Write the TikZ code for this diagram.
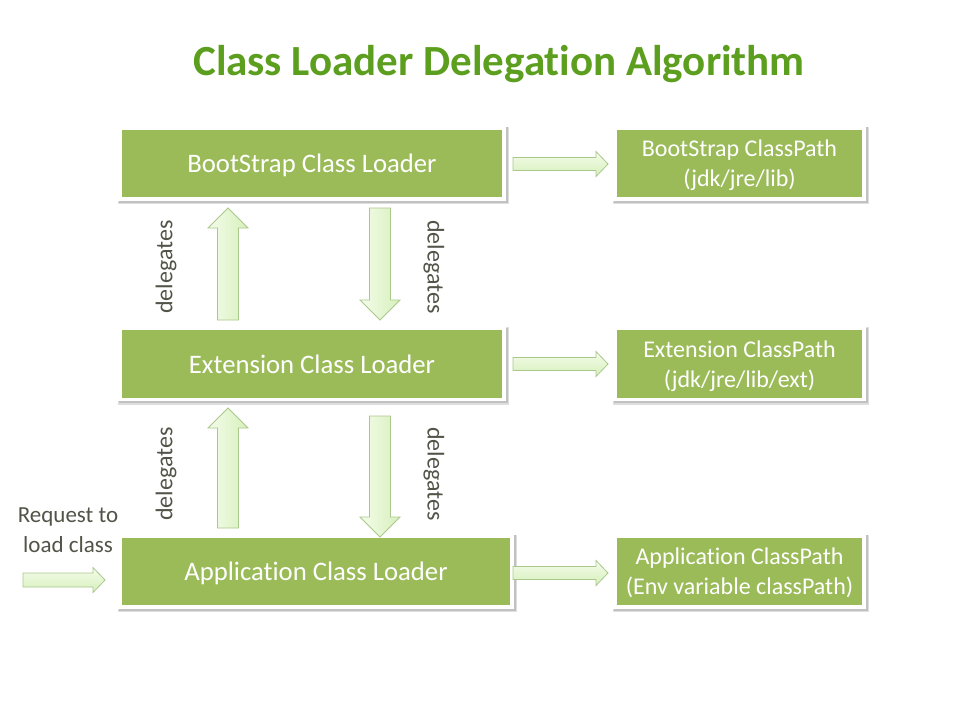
\documentclass[tikz,border=0pt]{standalone}
\usepackage{fontspec}
\setmainfont{Carlito}[Ligatures=NoCommon]
\usetikzlibrary{backgrounds,calc}
\definecolor{boxgreen}{RGB}{155,187,89}
\definecolor{titlegreen}{RGB}{92,158,30}
\definecolor{labelgray}{RGB}{82,84,72}
\definecolor{arrowedge}{RGB}{170,200,140}
\definecolor{arrowlight}{RGB}{244,252,234}
\definecolor{arrowdark}{RGB}{214,240,188}
\tikzset{
  loaderbox/.style={fill=boxgreen, draw=white, line width=3.5pt, text=white,
    inner sep=0pt, minimum height=71pt, align=center},
  loadertext/.style={font=\fontsize{26.7}{30}\selectfont, text depth=0pt},
  pathtext/.style={font=\fontsize{24}{30}\selectfont, text depth=0pt},
  vlabel/.style={text=labelgray, font=\fontsize{24}{28}\selectfont, inner sep=0pt},
  boxshadow/.style={fill=black, opacity=0.13},
  arrowbody/.style={draw=arrowedge, line width=0.8pt, left color=arrowlight, right color=arrowdark},
  harrowbody/.style={draw=arrowedge, line width=0.8pt, top color=arrowlight, bottom color=arrowdark},
  pics/vblock/.style n args={4}{code={
    \path[arrowbody] (0,-#2) -- ({#1-#4},-#2) -- ({#1-#4},-#3) -- (#1,0)
      -- ({#1-#4},#3) -- ({#1-#4},#2) -- (0,#2) -- cycle;
  }},
  pics/hblock/.style n args={4}{code={
    \path[harrowbody] (0,-#2) -- ({#1-#4},-#2) -- ({#1-#4},-#3) -- (#1,0)
      -- ({#1-#4},#3) -- ({#1-#4},#2) -- (0,#2) -- cycle;
  }},
}
\begin{document}
\begin{tikzpicture}[x=1pt, y=-1pt]
\useasboundingbox (0,0) rectangle (960,720);

% title
\node[text=titlegreen, font=\fontsize{43}{50}\selectfont\bfseries] (title) at (499,64) {Class Loader Delegation Algorithm};

% loader boxes
\node[loaderbox, loadertext, minimum width=384pt] (bsl) at (312,163.5) {BootStrap Class Loader};
\node[loaderbox, loadertext, minimum width=384pt] (ecl) at (312,364) {Extension Class Loader};
\node[loaderbox, loadertext, minimum width=392pt] (acl) at (316,571.5) {Application Class Loader};

% classpath boxes
\node[loaderbox, pathtext, minimum width=249pt] (bcp) at (739.5,163.5) {BootStrap ClassPath\\(jdk/jre/lib)};
\node[loaderbox, pathtext, minimum width=249pt] (ecp) at (739.5,364) {Extension ClassPath\\(jdk/jre/lib/ext)};
\node[loaderbox, pathtext, minimum width=249pt] (acp) at (739.5,571.5) {Application ClassPath\\(Env variable classPath)};

\begin{scope}[on background layer]
  \fill[white] (0,0) rectangle (960,720);
  \foreach \n in {bsl,ecl,acl,bcp,ecp,acp} {
    \fill[boxshadow] ($(\n.north west)+(-0.6,0.3)$) rectangle ($(\n.south east)+(3,3.5)$);
    \fill[boxshadow] ($(\n.north west)+(0.5,1)$) rectangle ($(\n.south east)+(1.8,2.2)$);
  }
\end{scope}

% vertical block arrows
\pic[rotate=90] (up1) at (228,320) {vblock={112}{10.5}{20}{20}};
\pic[rotate=-90] (down1) at (380,208) {vblock={112}{10.5}{20}{20}};
\pic[rotate=90] (up2) at (228,528) {vblock={120}{10.5}{20}{20}};
\pic[rotate=-90] (down2) at (380,416) {vblock={121}{10.5}{20}{20}};

% horizontal block arrows
\pic (h1) at (513,164) {hblock={95}{6.5}{12.5}{12}};
\pic (h2) at (513,364) {hblock={95}{6.5}{12.5}{12}};
\pic (h3) at (513,573) {hblock={95}{6.5}{12.5}{12}};
\pic (req) at (23,580) {hblock={82}{7}{12.5}{12}};

% labels
\node[vlabel, rotate=90] (l1) at (166,267) {delegates};
\node[vlabel, rotate=-90] (r1) at (434,267) {delegates};
\node[vlabel, rotate=90] (l2) at (166,474) {delegates};
\node[vlabel, rotate=-90] (r2) at (434,474) {delegates};

\node[text=labelgray, font=\fontsize{23}{30}\selectfont, align=center, inner sep=0pt] (reqtext) at (68,530) {Request to\\load class};
\end{tikzpicture}
\end{document}
